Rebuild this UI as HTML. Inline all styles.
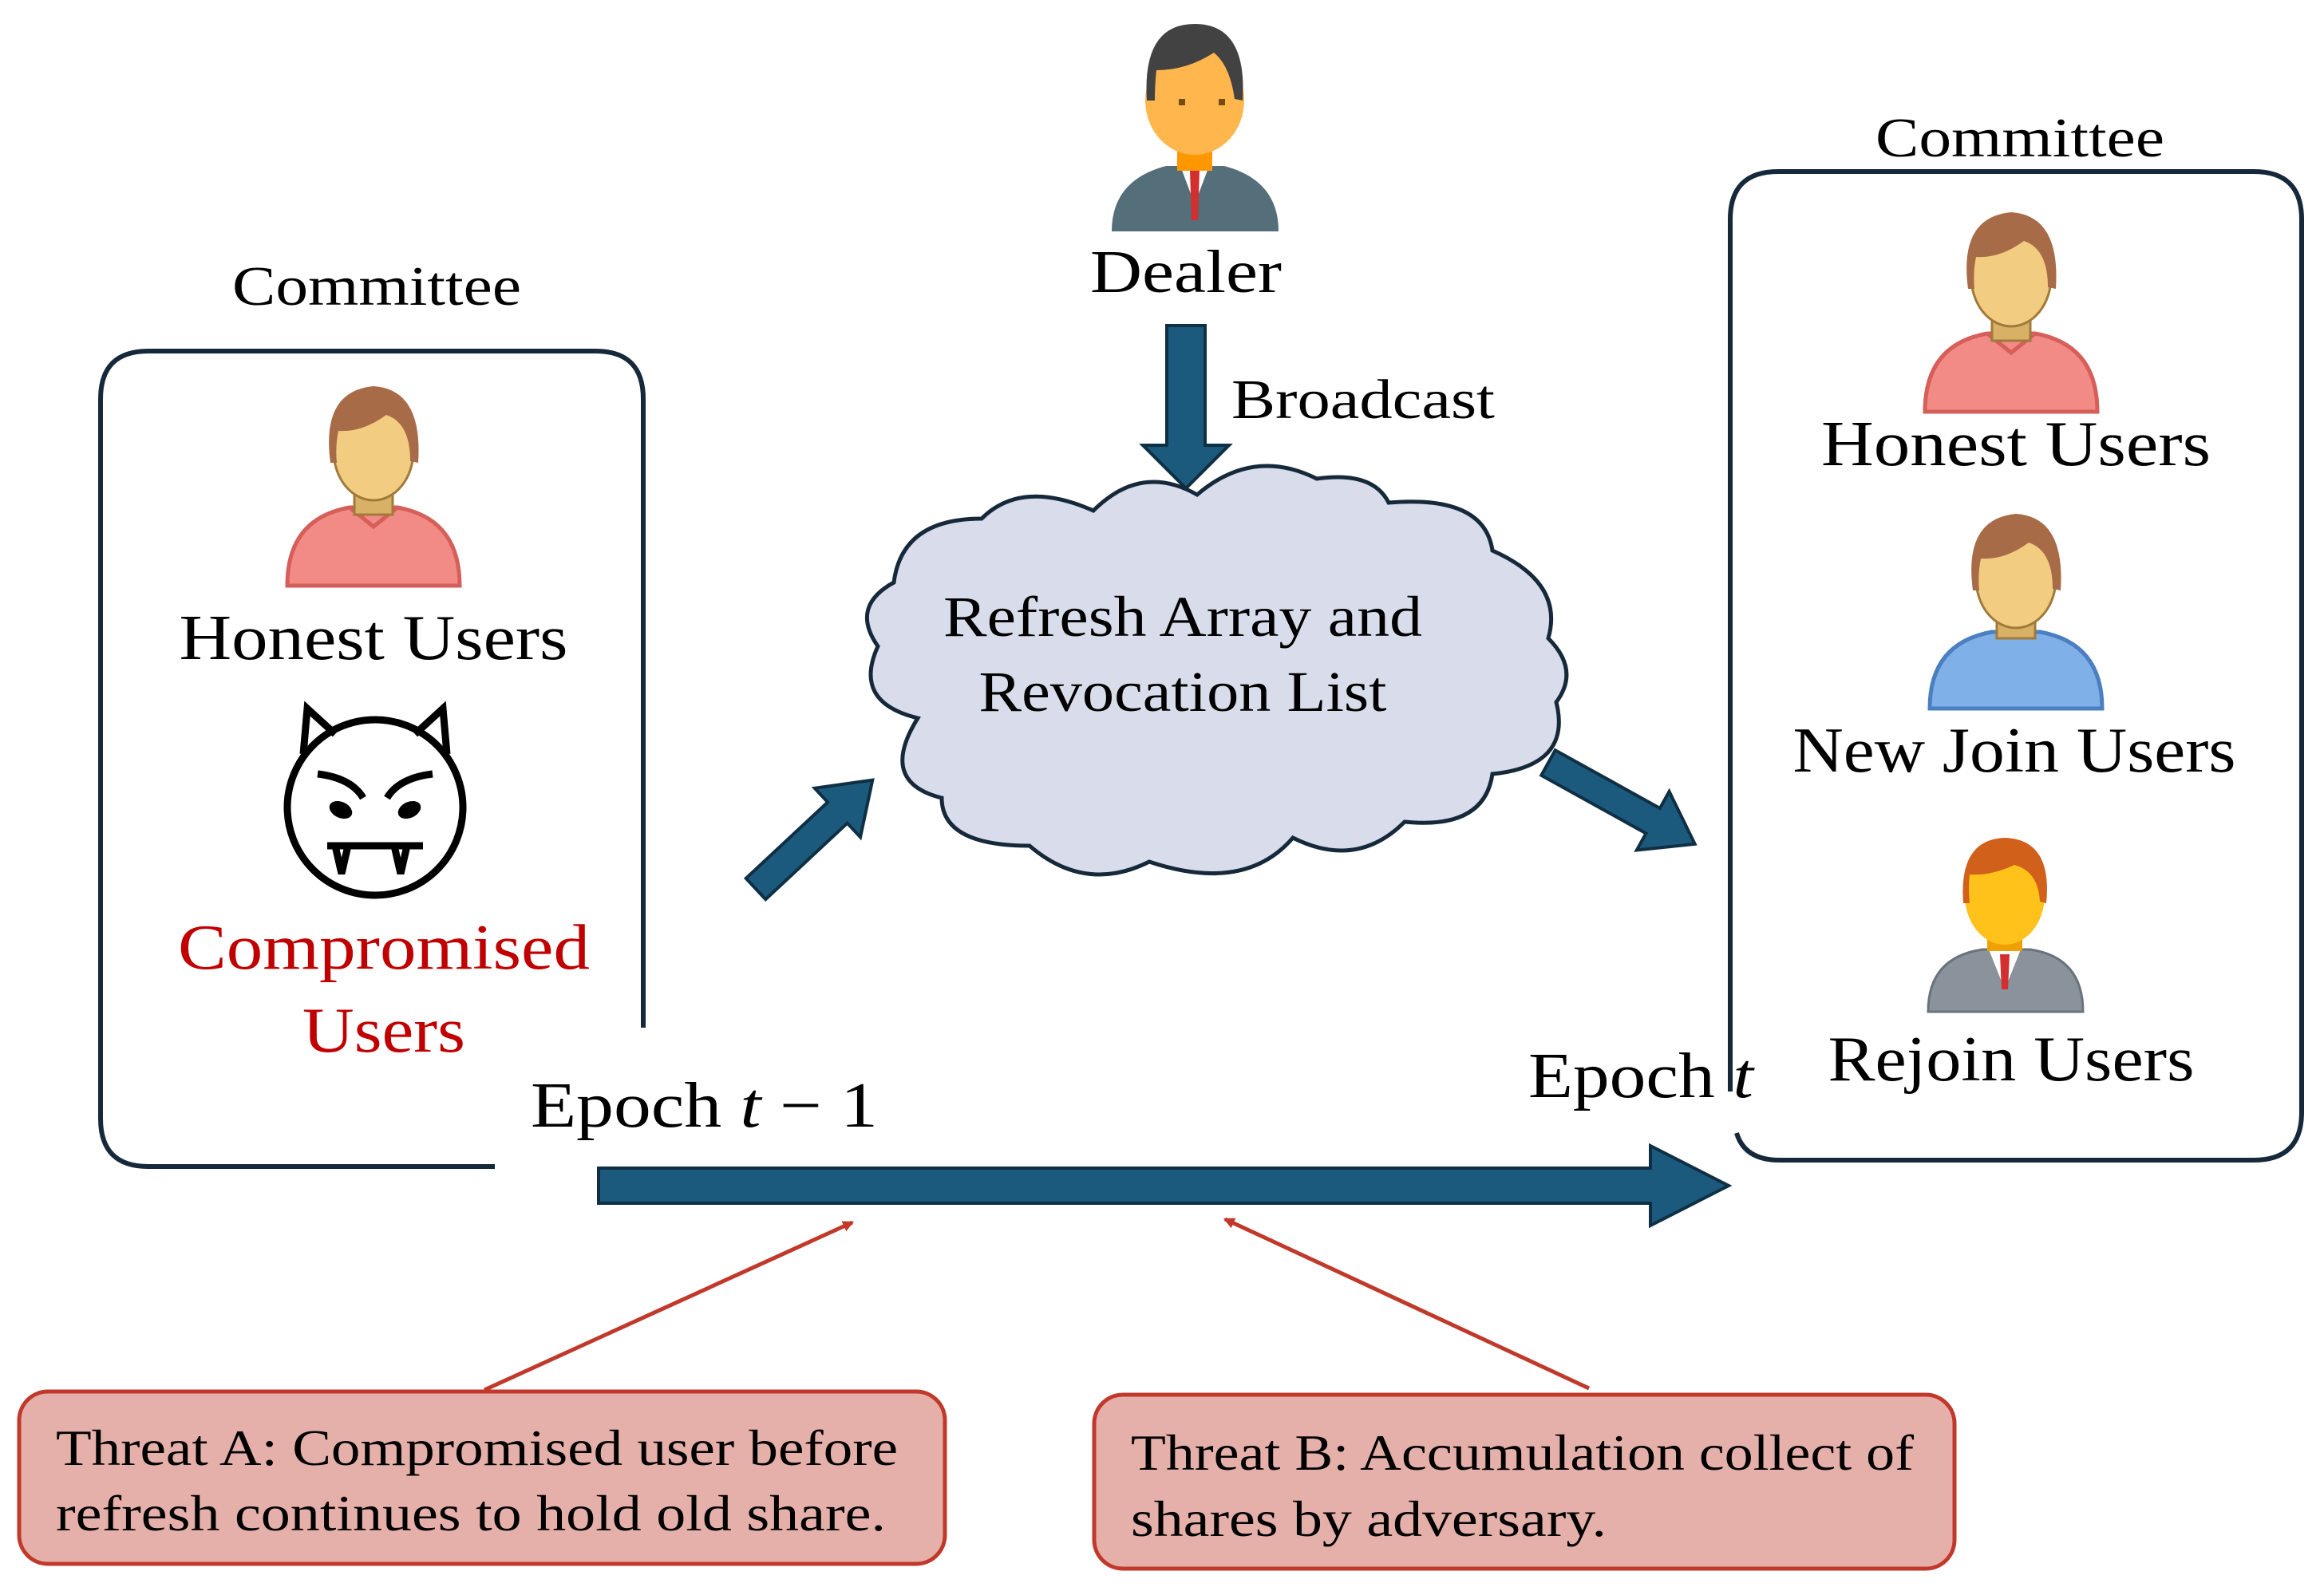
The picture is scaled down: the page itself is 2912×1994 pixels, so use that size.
<!DOCTYPE html>
<html><head><meta charset="utf-8"><style>
html,body{margin:0;padding:0;background:#fff;}
svg{display:block;}
text{font-family:"Liberation Serif","DejaVu Serif",serif;fill:#000;}
</style></head><body>
<svg width="2912" height="1994" viewBox="0 0 2912 1994" xmlns="http://www.w3.org/2000/svg">
<defs>
<marker id="ra" markerWidth="14" markerHeight="14" refX="10" refY="6" orient="auto" markerUnits="userSpaceOnUse" viewBox="0 0 12 12"><path d="M0 0 L12 6 L0 12 Z" fill="#c0392b"/></marker>
</defs>

<!-- Left box (with gaps) -->
<path d="M620 1462 L186 1462 Q126 1462 126 1402 L126 500 Q126 440 186 440 L746 440 Q806 440 806 500 L806 1288" fill="none" stroke="#15293a" stroke-width="6"/>
<text x="472" y="382" font-size="70" text-anchor="middle" textLength="362" lengthAdjust="spacingAndGlyphs">Committee</text>

<!-- Left honest user -->
<g transform="translate(358,470)">
  <path d="M2 264 Q2 180 80 166 L140 166 Q218 180 218 264 Z" fill="#f28b86" stroke="#d65f5a" stroke-width="5"/>
  <path d="M80 166 L110 190 L140 166" fill="none" stroke="#d65f5a" stroke-width="5"/>
  <rect x="86" y="130" width="48" height="45" fill="#d9b166" stroke="#a07a3a" stroke-width="3"/>
  <ellipse cx="110" cy="95" rx="50" ry="62" fill="#f2cc80" stroke="#a07a3a" stroke-width="3"/>
  <path d="M56 110 Q44 20 110 14 Q172 18 166 110 L156 108 Q156 60 126 50 Q96 72 66 70 Q62 90 64 110 Z" fill="#a86b47"/>
</g>
<text x="468" y="826" font-size="80" text-anchor="middle" textLength="487" lengthAdjust="spacingAndGlyphs">Honest Users</text>

<!-- Devil -->
<g fill="none" stroke="#000" stroke-width="9">
  <circle cx="470" cy="1012" r="110"/>
  <path d="M380 945 L385 888 L420 920"/>
  <path d="M560 945 L555 888 L520 920"/>
  <path d="M398 970 Q440 975 455 1000"/>
  <path d="M542 970 Q500 975 485 1000"/>
  <path d="M410 1060 L530 1060"/>
  <path d="M420 1060 L428 1095 L436 1060 M510 1060 L502 1095 L494 1060"/>
</g>
<ellipse cx="427" cy="1015" rx="15" ry="10" transform="rotate(25 427 1015)" fill="#000"/>
<ellipse cx="513" cy="1015" rx="15" ry="10" transform="rotate(-25 513 1015)" fill="#000"/>
<text x="481" y="1214" font-size="80" text-anchor="middle" style="fill:#c00000" textLength="516" lengthAdjust="spacingAndGlyphs">Compromised</text>
<text x="481" y="1318" font-size="80" text-anchor="middle" style="fill:#c00000" textLength="204" lengthAdjust="spacingAndGlyphs">Users</text>

<text x="665" y="1412" font-size="80" textLength="435" lengthAdjust="spacingAndGlyphs">Epoch <tspan font-style="italic">t</tspan> − 1</text>

<!-- Horizontal arrow -->
<path d="M750 1464 L2068 1464 L2068 1436 L2166 1486 L2068 1536 L2068 1508 L750 1508 Z" fill="#1b5a7c" stroke="#0f2f44" stroke-width="4"/>

<!-- Right box -->
<path d="M2168 1368 L2168 275 Q2168 215 2228 215 L2824 215 Q2884 215 2884 275 L2884 1394 Q2884 1454 2824 1454 L2230 1454 Q2186 1454 2176 1420" fill="none" stroke="#15293a" stroke-width="6"/>
<text x="2531" y="196" font-size="70" text-anchor="middle" textLength="362" lengthAdjust="spacingAndGlyphs">Committee</text>

<!-- Right honest user -->
<g transform="translate(2410,252)">
  <path d="M2 264 Q2 180 80 166 L140 166 Q218 180 218 264 Z" fill="#f28b86" stroke="#d65f5a" stroke-width="5"/>
  <path d="M80 166 L110 190 L140 166" fill="none" stroke="#d65f5a" stroke-width="5"/>
  <rect x="86" y="130" width="48" height="45" fill="#d9b166" stroke="#a07a3a" stroke-width="3"/>
  <ellipse cx="110" cy="95" rx="50" ry="62" fill="#f2cc80" stroke="#a07a3a" stroke-width="3"/>
  <path d="M56 110 Q44 20 110 14 Q172 18 166 110 L156 108 Q156 60 126 50 Q96 72 66 70 Q62 90 64 110 Z" fill="#a86b47"/>
</g>
<text x="2526" y="583" font-size="80" text-anchor="middle" textLength="488" lengthAdjust="spacingAndGlyphs">Honest Users</text>

<!-- New join user -->
<g transform="translate(2416,630)">
  <path d="M2 258 Q2 176 80 162 L140 162 Q218 176 218 258 Z" fill="#7fb0e8" stroke="#4a7fc0" stroke-width="5"/>
  <rect x="86" y="128" width="48" height="42" fill="#d9b166" stroke="#a07a3a" stroke-width="3"/>
  <ellipse cx="110" cy="95" rx="50" ry="62" fill="#f2cc80" stroke="#a07a3a" stroke-width="3"/>
  <path d="M56 110 Q44 20 110 14 Q172 18 166 110 L156 108 Q156 60 126 50 Q96 72 66 70 Q62 90 64 110 Z" fill="#a86b47"/>
</g>
<text x="2524" y="967" font-size="80" text-anchor="middle" textLength="555" lengthAdjust="spacingAndGlyphs">New Join Users</text>

<!-- Rejoin user -->
<g transform="translate(2414,1040)">
  <path d="M2 228 Q2 160 70 150 L130 150 Q196 160 196 228 Z" fill="#8a939c" stroke="#6a737c" stroke-width="3"/>
  <path d="M78 150 L98 200 L118 150 Z" fill="#fff"/>
  <path d="M92 156 L104 156 L102 200 L94 200 Z" fill="#d32f2f"/>
  <rect x="76" y="120" width="44" height="32" fill="#f0a000"/>
  <ellipse cx="98" cy="82" rx="50" ry="62" fill="#ffc21a"/>
  <path d="M46 92 Q40 12 98 10 Q158 12 150 92 L142 90 Q140 52 110 44 Q80 58 54 56 Q52 72 54 92 Z" fill="#d0601a"/>
</g>
<text x="2520" y="1354" font-size="80" text-anchor="middle" textLength="459" lengthAdjust="spacingAndGlyphs">Rejoin Users</text>

<text x="1915" y="1375" font-size="80" textLength="282" lengthAdjust="spacingAndGlyphs">Epoch <tspan font-style="italic">t</tspan></text>

<!-- Dealer -->
<g transform="translate(1391,26)">
  <path d="M2 264 Q2 200 70 182 L143 182 Q211 200 211 264 Z" fill="#546e7a"/>
  <path d="M88 182 L106 230 L124 182 Z" fill="#fff"/>
  <path d="M100 188 L112 188 L110 250 L102 250 Z" fill="#d32f2f"/>
  <rect x="84" y="158" width="44" height="30" fill="#ff9800"/>
  <ellipse cx="106" cy="100" rx="62" ry="68" fill="#ffb74d"/>
  <path d="M46 100 Q40 4 106 4 Q172 4 166 100 L156 98 Q150 56 130 40 Q96 62 58 62 Q56 80 56 100 Z" fill="#424242"/>
  <rect x="86" y="98" width="8" height="8" fill="#7a4a10"/>
  <rect x="136" y="98" width="8" height="8" fill="#7a4a10"/>
</g>
<text x="1486" y="366" font-size="76" text-anchor="middle" textLength="240" lengthAdjust="spacingAndGlyphs">Dealer</text>

<!-- Down arrow -->
<path d="M1462 408 L1510 408 L1510 558 L1540 558 L1486 612 L1432 558 L1462 558 Z" fill="#1b5a7c" stroke="#0f2f44" stroke-width="4"/>
<text x="1543" y="524" font-size="70" textLength="330" lengthAdjust="spacingAndGlyphs">Broadcast</text>

<!-- Cloud -->
<path d="M1150 900 Q1068 880 1100 810 Q1065 760 1120 730 Q1130 650 1230 650 Q1280 600 1370 640 Q1430 580 1500 620 Q1570 560 1650 600 Q1720 590 1740 630 Q1860 620 1870 690 Q1960 730 1940 800 Q1980 840 1950 880 Q1970 960 1870 970 Q1860 1040 1760 1030 Q1700 1090 1620 1050 Q1560 1120 1440 1080 Q1360 1120 1290 1060 Q1180 1060 1180 1000 Q1100 980 1150 900 Z" fill="#d9dcea" stroke="#15293a" stroke-width="5"/>
<text x="1482" y="797" font-size="72" text-anchor="middle" textLength="600" lengthAdjust="spacingAndGlyphs">Refresh Array and</text>
<text x="1482" y="891" font-size="72" text-anchor="middle" textLength="511" lengthAdjust="spacingAndGlyphs">Revocation List</text>

<!-- Diagonal arrows -->
<g transform="translate(947,1114) rotate(-43)">
  <path d="M0 -18 L140 -18 L140 -42 L200 0 L140 42 L140 18 L0 18 Z" fill="#1b5a7c" stroke="#0f2f44" stroke-width="4"/>
</g>
<g transform="translate(1940,956) rotate(29)">
  <path d="M0 -18 L150 -18 L150 -42 L210 0 L150 42 L150 18 L0 18 Z" fill="#1b5a7c" stroke="#0f2f44" stroke-width="4"/>
</g>

<!-- Red connectors -->
<line x1="607" y1="1742" x2="1068" y2="1532" stroke="#c0392b" stroke-width="5" marker-end="url(#ra)"/>
<line x1="1991" y1="1740" x2="1535" y2="1528" stroke="#c0392b" stroke-width="5" marker-end="url(#ra)"/>

<!-- Threat boxes -->
<rect x="24" y="1744" width="1160" height="216" rx="36" fill="#e6b0aa" stroke="#c0392b" stroke-width="5"/>
<text x="70" y="1836" font-size="64" textLength="1055" lengthAdjust="spacingAndGlyphs">Threat A: Compromised user before</text>
<text x="70" y="1918" font-size="64" textLength="1040" lengthAdjust="spacingAndGlyphs">refresh continues to hold old share.</text>
<rect x="1371" y="1748" width="1078" height="218" rx="36" fill="#e6b0aa" stroke="#c0392b" stroke-width="5"/>
<text x="1417" y="1842" font-size="64" textLength="981" lengthAdjust="spacingAndGlyphs">Threat B: Accumulation collect of</text>
<text x="1417" y="1925" font-size="64" textLength="596" lengthAdjust="spacingAndGlyphs">shares by adversary.</text>
</svg>
</body></html>
